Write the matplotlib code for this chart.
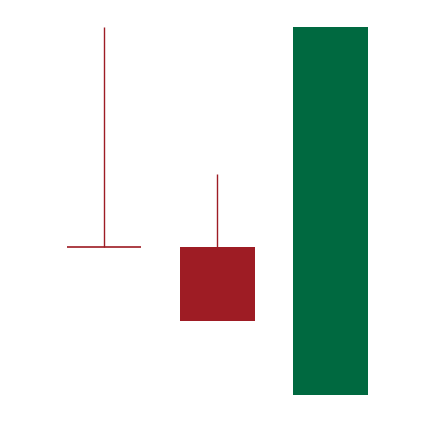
import matplotlib
matplotlib.use('Agg')
import matplotlib.pyplot as plt
import numpy as np

# OHLC values
days = [0, 1, 2]
opens = [40.4, 40.4, 0.0]
highs = [100.0, 60.0, 100.0]
lows = [40.4, 20.0, 0.0]
closes = [40.4, 20.0, 100.0]

up_col = '#006940'
down_col = '#9e1c24'
width = 0.66

fig = plt.figure(figsize=(4.34, 4.22), dpi=100)
ax = fig.add_axes([0, 0, 1, 1])

for d, o, h, l, c in zip(days, opens, highs, lows, closes):
	col = up_col if c > o else down_col
	top, bot = max(o, c), min(o, c)
	# wicks only outside the body
	if h > top:
		ax.vlines(d, top, h, color=col, linewidth=1, zorder=1)
	if l < bot:
		ax.vlines(d, l, bot, color=col, linewidth=1, zorder=1)
	if c == o:
		ax.hlines(o, d - width / 2, d + width / 2, color=col, linewidth=1.2, zorder=2)
	else:
		ax.bar(d, top - bot, bottom=bot, width=width, color=col, linewidth=0, zorder=2)

ax.set_xlim(-0.918, 2.914)
ax.set_ylim(-7.35, 107.48)
ax.axis('off')

fig.savefig('out.png', dpi=100)
